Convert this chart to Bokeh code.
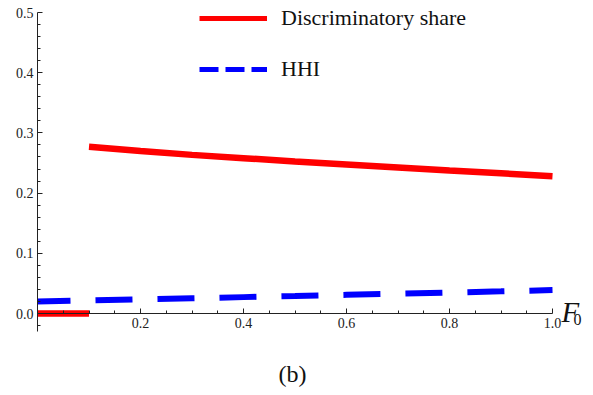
import numpy as np
from bokeh.plotting import figure
from bokeh.models import (FixedTicker, PrintfTickFormatter, Legend, LegendItem, Label, Range1d)
from bokeh.embed import file_html
from bokeh.resources import INLINE

# ---- data ----
share_zero_x = [0.0, 0.1]
share_zero_y = [0.0, 0.0]
share_x = [0.1, 0.2, 0.3, 0.4, 0.5, 0.6, 0.7, 0.8, 0.9, 1.0]
share_y = [0.277, 0.270, 0.2635, 0.258, 0.2525, 0.2475, 0.2425, 0.2375, 0.233, 0.228]
hhi_x = [0.0, 0.1, 0.2, 0.3, 0.4, 0.5, 0.6, 0.7, 0.8, 0.9, 1.0]
hhi_y = [0.020, 0.0218, 0.0236, 0.0254, 0.0272, 0.0290, 0.0310, 0.0329, 0.0348, 0.0368, 0.0389]
x_ticks = [0.2, 0.4, 0.6, 0.8, 1.0]
x_minor = [0.05, 0.1, 0.15, 0.25, 0.3, 0.35, 0.45, 0.5, 0.55, 0.65, 0.7, 0.75, 0.85, 0.9, 0.95]
y_ticks = [0.0, 0.1, 0.2, 0.3, 0.4, 0.5]
y_minor = [-0.02] + [round(0.02 * i, 2) for i in range(1, 25) if i % 5 != 0]

FONT = "Liberation Serif"
W, H = 593, 395
# frame covers the whole canvas; axes sit at fixed data positions
X0_PX, X1_PX = 37.0, 552.0
Y0_PX, Y5_PX = 313.0, 12.0
xs = (X1_PX - X0_PX) / 1.0
ys = (Y0_PX - Y5_PX) / 0.5

p = figure(width=W, height=H, output_backend="svg", toolbar_location=None,
           x_range=Range1d(-X0_PX / xs, (W - X0_PX) / xs),
           y_range=Range1d(-(H - Y0_PX) / ys, 0.5 + Y5_PX / ys),
           min_border=0, min_border_left=0, min_border_right=0,
           min_border_top=0, min_border_bottom=0)
p.outline_line_color = None
p.grid.visible = False
p.background_fill_color = "white"

red = "#FF0000"
blue = "#0000FF"

p.line(share_zero_x, share_zero_y, line_color=red, line_width=6.5)
p.line(share_x, share_y, line_color=red, line_width=6.5)
p.line(hhi_x, hhi_y, line_color=blue, line_width=6, line_dash="37 25", line_dash_offset=4)

# legend proxies (not visible in the plot area)
r_leg = p.line([np.nan], [np.nan], line_color=red, line_width=5)
b_leg = p.line([np.nan], [np.nan], line_color=blue, line_width=5, line_dash="19 7")
legend = Legend(items=[LegendItem(label="Discriminatory share", renderers=[r_leg]),
                       LegendItem(label="HHI", renderers=[b_leg])],
                location=(199, 313), padding=0, margin=0, spacing=25,
                glyph_width=68, glyph_height=20, label_height=20, label_standoff=14,
                label_text_font=FONT, label_text_font_size="22px", label_text_color="#111",
                background_fill_alpha=0, border_line_color=None)
p.add_layout(legend, "center")

for ax in (p.xaxis[0], p.yaxis[0]):
    ax.axis_line_color = "#222"
    ax.major_tick_line_color = "#222"
    ax.minor_tick_line_color = "#222"
    ax.major_tick_in = 5
    ax.major_tick_out = 0
    ax.minor_tick_in = 3
    ax.minor_tick_out = 0
    ax.major_label_text_font = FONT
    ax.major_label_text_font_size = "14px"
    ax.major_label_text_color = "#222"
    ax.formatter = PrintfTickFormatter(format="%.1f")

p.xaxis[0].ticker = FixedTicker(ticks=x_ticks, minor_ticks=x_minor)
p.yaxis[0].ticker = FixedTicker(ticks=y_ticks, minor_ticks=y_minor)
p.xaxis[0].fixed_location = 0
p.yaxis[0].fixed_location = 0
p.xaxis[0].bounds = (0, 1.0)
p.yaxis[0].bounds = (-0.03, 0.5)
p.xaxis[0].major_label_standoff = 4
p.yaxis[0].major_label_standoff = 4

p.add_layout(Label(x=1.0, y=1.5 / ys, x_offset=9, text="F", text_font=FONT,
                   text_font_style="italic", text_font_size="29px", text_color="#111",
                   text_baseline="alphabetic"))
p.add_layout(Label(x=1.0, y=-6 / ys, x_offset=21, text="0", text_font=FONT,
                   text_font_size="16px", text_color="#111", text_baseline="alphabetic"))
p.add_layout(Label(x=(292 - X0_PX) / xs, y=-(373 - Y0_PX) / ys, text="(b)", text_font=FONT,
                   text_align="center", text_font_size="24px", text_color="#111",
                   text_baseline="alphabetic"))

open("out.html", "w").write(file_html(p, INLINE))
